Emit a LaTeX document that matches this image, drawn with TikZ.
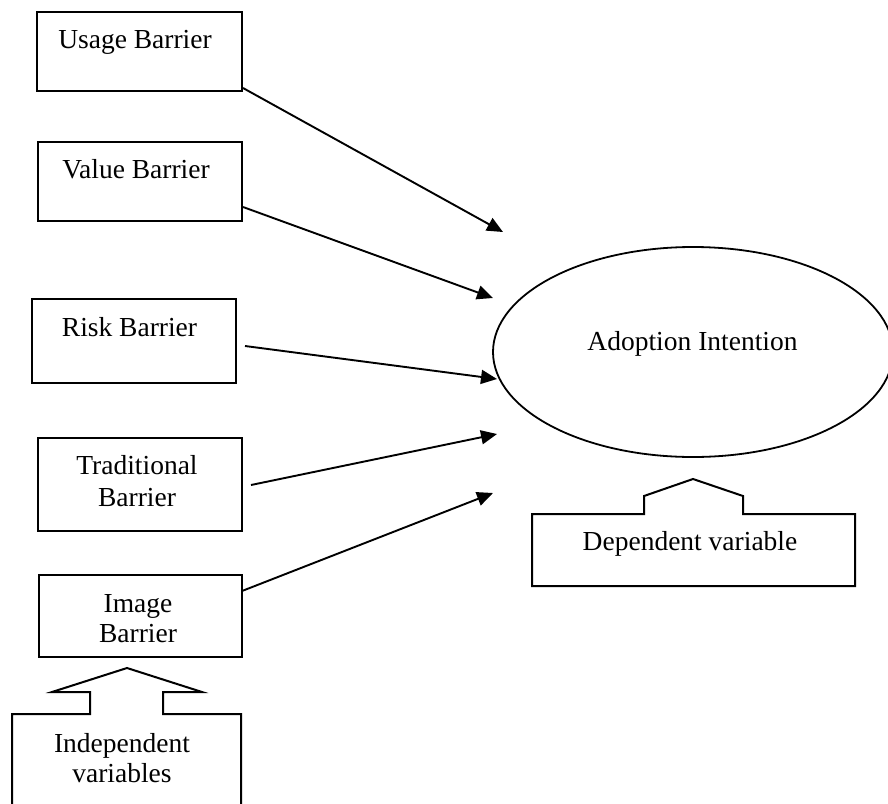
\documentclass[tikz,border=0pt]{standalone}
\usepackage{fontspec}
\setmainfont{Liberation Serif}
\usetikzlibrary{arrows.meta,shapes.geometric}
\begin{document}
\begin{tikzpicture}[x=1pt,y=-1pt,
  box/.style={draw, line width=2pt, inner sep=0pt},
  lbl/.style={font=\fontsize{27.5}{32}\selectfont, inner sep=0pt, align=center},
  conn/.style={line width=1.9pt, -{Triangle[length=16pt,width=14pt]}},
  callout/.style={draw, line width=2pt, line join=miter}]
\path[use as bounding box] (0,0) rectangle (888,803);
\clip (0,0) rectangle (888,803);

% barrier boxes
\node[box, minimum width=205pt, minimum height=79pt] (usage) at (139.5,51.5) {};
\node[box, minimum width=204pt, minimum height=79pt] (value) at (140,181.5) {};
\node[box, minimum width=204pt, minimum height=84pt] (risk) at (134,341) {};
\node[box, minimum width=204pt, minimum height=93pt] (trad) at (140,484.5) {};
\node[box, minimum width=203pt, minimum height=82pt] (image) at (140.5,616) {};

\node[lbl, anchor=base] (usageT) at (135,48) {Usage Barrier};
\node[lbl, anchor=base] (valueT) at (136,178) {Value Barrier};
\node[lbl, anchor=base] (riskT) at (129.5,336) {Risk Barrier};
\node[lbl] (tradT) at (137,481) {Traditional\\Barrier};
\node[lbl, font=\fontsize{27.5}{30}\selectfont] (imageT) at (138,619) {Image\\Barrier};

% dependent ellipse
\node[draw, ellipse, line width=1.8pt, minimum width=400pt, minimum height=210pt, inner sep=0pt] (adopt) at (693,352) {};
\node[lbl, anchor=base] (adoptT) at (692.5,350) {Adoption Intention};

% arrow start and end points
\coordinate (s1) at (243,88);
\coordinate (t1) at (503,232);
\coordinate (s2) at (243,207);
\coordinate (t2) at (493,298);
\coordinate (s3) at (245,346);
\coordinate (t3) at (497,379);
\coordinate (s4) at (251,485);
\coordinate (t4) at (497,434);
\coordinate (s5) at (242,591);
\coordinate (t5) at (493,493);

\draw[conn] (s1) -- (t1);
\draw[conn] (s2) -- (t2);
\draw[conn] (s3) -- (t3);
\draw[conn] (s4) -- (t4);
\draw[conn] (s5) -- (t5);

% independent variables callout
\draw[callout] (12,810) -- (12,714) -- (90,714) -- (90,692) -- (52,692) -- (127,668)
  -- (202,692) -- (163,692) -- (163,714) -- (241,714) -- (241,810);
\node[lbl, font=\fontsize{27.5}{30}\selectfont] (indepT) at (122,758) {Independent\\variables};

% dependent variable callout
\draw[callout] (532,514) -- (644,514) -- (644,496) -- (693,479) -- (743,496) -- (743,514)
  -- (855,514) -- (855,586) -- (532,586) -- cycle;
\node[lbl, anchor=base] (depT) at (690,550) {Dependent variable};
\end{tikzpicture}
\end{document}
